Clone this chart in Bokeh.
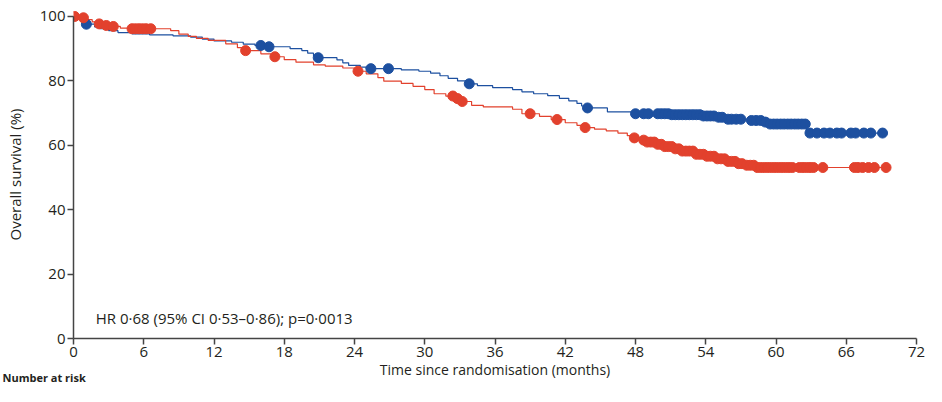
from bokeh.plotting import figure
from bokeh.models import Range1d, Label, FixedTicker, Title
from bokeh.embed import file_html
from bokeh.resources import INLINE

# ---- data ----
blue_t = [0, 0.4, 0.8, 1.0, 1.8, 2.3, 3.0, 3.8, 5.0, 6.5, 8.5, 10.0, 11.0, 12.0, 13.5, 14.5,
          15.5, 16.4, 18.5, 19.5, 20.0, 20.5, 20.8, 22.5, 23.0, 23.5, 24.5, 25.0, 28.0, 29.5,
          30.5, 31.3, 32.0, 32.8, 33.5, 34.5, 35.8, 37.5, 38.3, 39.3, 40.5, 41.5, 42.3, 43.0,
          43.4, 43.8, 45.6, 47.7, 51.0, 53.6, 55.0, 55.8, 57.5, 58.9, 59.3, 62.6, 69.2]
blue_s = [100, 99.2, 98.5, 97.6, 96.8, 96.2, 95.6, 95.0, 94.6, 94.3, 94.0, 93.6, 93.0, 92.4, 92.0, 91.4,
          91.0, 90.6, 90.0, 89.4, 88.6, 87.8, 87.2, 86.5, 85.6, 84.8, 84.3, 83.8, 83.4, 83.0,
          82.4, 81.6, 80.8, 80.0, 79.1, 78.5, 77.9, 77.3, 76.6, 76.0, 75.4, 74.6, 73.8, 73.0,
          72.2, 71.6, 70.4, 69.8, 69.5, 69.1, 68.7, 68.1, 67.7, 67.2, 66.6, 63.8, 63.8]

blue_cens_t = [1.1, 16.0, 16.7, 20.9, 25.4, 26.9, 33.8, 43.9, 48.0, 48.7, 49.1, 49.9, 50.2, 50.5, 50.8,
               51.1, 51.4, 51.7, 52.0, 52.3, 52.6, 52.9, 53.2, 53.5, 53.8, 54.1, 54.4, 54.7, 55.1, 55.4,
               55.9, 56.2, 56.6, 57.0, 57.9, 58.3, 58.7, 59.1, 59.5, 59.8, 60.1, 60.4, 60.7, 61.0,
               61.3, 61.6, 61.9, 62.2, 62.5, 62.9, 63.5, 64.1, 64.6, 65.2, 65.6, 66.4, 66.8, 67.5,
               68.1, 69.1]
blue_cens_s = [97.6, 91.0, 90.6, 87.2, 83.8, 83.8, 79.1, 71.6, 69.8, 69.8, 69.8, 69.8, 69.8, 69.8, 69.8,
               69.5, 69.5, 69.5, 69.5, 69.5, 69.5, 69.5, 69.5, 69.5, 69.1, 69.1, 69.1, 69.1, 68.7, 68.7,
               68.1, 68.1, 68.1, 68.1, 67.7, 67.7, 67.7, 67.2, 66.6, 66.6, 66.6, 66.6, 66.6, 66.6,
               66.6, 66.6, 66.6, 66.6, 66.6, 63.8, 63.8, 63.8, 63.8, 63.8, 63.8, 63.8, 63.8, 63.8,
               63.8, 63.8]

red_t = [0, 0.5, 1.0, 1.6, 2.0, 2.6, 3.2, 4.0, 4.8, 8.3, 9.0, 9.8, 10.5, 11.5, 13.0, 14.0, 14.5,
         16.0, 17.0, 18.0, 19.0, 20.5, 21.5, 23.0, 24.0, 25.0, 26.0, 26.5, 28.0, 29.0, 30.0, 30.8,
         31.8, 32.6, 33.1, 34.0, 35.0, 37.5, 38.3, 39.8, 40.8, 42.0, 43.0, 43.5, 44.5, 45.5, 46.5,
         47.3, 47.7, 48.3, 49.0, 49.8, 50.5, 51.2, 52.0, 53.0, 54.0, 55.0, 55.8, 56.6, 57.4, 58.3, 69.4]
red_s = [100, 99.6, 99.0, 98.3, 97.7, 97.2, 96.9, 96.4, 96.2, 95.6, 94.5, 93.8, 93.2, 92.6, 91.5, 90.3, 89.4,
         88.4, 87.5, 86.6, 85.8, 85.0, 84.6, 84.0, 83.0, 82.2, 81.0, 79.9, 79.2, 78.3, 77.3, 76.0,
         75.3, 74.5, 73.6, 72.4, 71.9, 71.2, 69.8, 69.0, 68.0, 67.0, 66.2, 65.5, 65.0, 64.5, 63.8,
         63.0, 62.3, 61.6, 61.0, 60.3, 59.6, 58.9, 58.2, 57.2, 56.6, 55.8, 55.0, 54.3, 53.8, 53.1, 53.1]

red_cens_t = [0.1, 0.85, 2.2, 2.8, 3.4, 5.0, 5.3, 5.6, 5.9, 6.2, 6.6, 14.7, 17.2, 24.3, 32.4, 32.8, 33.2,
              39.0, 41.3, 43.7, 47.9, 48.7, 49.0, 49.3, 49.6, 49.9, 50.2, 50.5, 50.8, 51.1, 51.4,
              51.7, 52.0, 52.3, 52.6, 52.9, 53.2, 53.5, 53.8, 54.1, 54.4, 54.7, 55.0, 55.3, 55.6,
              55.9, 56.2, 56.5, 56.8, 57.1, 57.5, 57.8, 58.1, 58.4, 58.7, 59.0, 59.3, 59.6, 59.9,
              60.2, 60.5, 60.8, 61.1, 61.4, 62.0, 62.3, 62.6, 62.9, 63.2, 64.0, 66.7, 67.0, 67.4,
              67.9, 68.4, 69.4]
red_cens_s = [100, 99.6, 97.7, 97.2, 96.9, 96.2, 96.2, 96.2, 96.2, 96.2, 96.2, 89.4, 87.5, 83.0, 75.3, 74.5, 73.6,
              69.8, 68.0, 65.5, 62.3, 61.6, 61.0, 61.0, 61.0, 60.3, 60.3, 59.6, 59.6, 59.6, 58.9,
              58.9, 58.2, 58.2, 58.2, 58.2, 57.2, 57.2, 57.2, 56.6, 56.6, 56.6, 55.8, 55.8, 55.8,
              55.0, 55.0, 55.0, 54.3, 54.3, 53.8, 53.8, 53.8, 53.1, 53.1, 53.1, 53.1, 53.1, 53.1,
              53.1, 53.1, 53.1, 53.1, 53.1, 53.1, 53.1, 53.1, 53.1, 53.1, 53.1, 53.1, 53.1, 53.1,
              53.1, 53.1, 53.1]

x_ticks = [0, 6, 12, 18, 24, 30, 36, 42, 48, 54, 60, 66, 72]
y_ticks = [0, 20, 40, 60, 80, 100]
hr_text = "HR 0·68 (95% CI 0·53–0·86); p=0·0013"
risk_text = "Number at risk"

BLUE = "#1d50a0"
RED = "#e2412d"
TXT = "#231f20"
FONT = "Open Sans"

p = figure(width=926, height=386, output_backend="svg", toolbar_location=None,
           x_range=Range1d(0, 72.0), y_range=Range1d(0, 101.86),
           min_border_left=73, min_border_right=10, min_border_top=10, min_border_bottom=48)
p.outline_line_color = None
p.grid.grid_line_color = None
p.background_fill_color = "white"
p.border_fill_color = "white"

p.step(blue_t, blue_s, mode="after", line_color=BLUE, line_width=1.2)
p.step(red_t, red_s, mode="after", line_color=RED, line_width=1.2)
p.scatter(blue_cens_t, blue_cens_s, size=10, fill_color=BLUE, line_color=BLUE)
p.scatter(red_cens_t, red_cens_s, size=10, fill_color=RED, line_color=RED)

for ax in (p.xaxis[0], p.yaxis[0]):
    ax.axis_line_color = "#444444"
    ax.axis_line_width = 1.5
    ax.major_tick_line_color = "#444444"
    ax.major_tick_line_width = 1.5
    ax.minor_tick_line_color = None
    ax.major_tick_in = 0
    ax.major_tick_out = 6
    ax.major_label_text_font = FONT
    ax.major_label_text_font_size = "15px"
    ax.major_label_text_color = TXT
    ax.axis_label_text_font = FONT
    ax.axis_label_text_font_size = "15px"
    ax.axis_label_text_font_style = "normal"
    ax.axis_label_text_color = TXT

p.xaxis.axis_label_text_font_size = "14px"
p.xaxis.ticker = FixedTicker(ticks=x_ticks)
p.yaxis.ticker = FixedTicker(ticks=y_ticks)
p.xaxis.bounds = (0, 72)
p.yaxis.bounds = (0, 100)
p.xaxis.axis_label = "Time since randomisation (months)"
p.yaxis.axis_label = "Overall survival (%)"
p.xaxis.major_label_standoff = 2
p.yaxis.major_label_standoff = 2
p.xaxis.axis_label_standoff = 0
p.yaxis.axis_label_standoff = 12

p.add_layout(Label(x=1.9, y=6.5, text=hr_text, text_font=FONT, text_font_size="15px",
                   text_color=TXT, text_baseline="middle"))

# title row drawn into the bottom-left corner (second line is blank so the first stays on the canvas)
risk_title = Title(text=risk_text + "\n ", align="left", offset=-71, standoff=-27,
                   text_font=FONT, text_font_size="11px", text_font_style="bold",
                   text_color=TXT)
p.add_layout(risk_title, "below")

open("out.html", "w").write(file_html(p, INLINE))
